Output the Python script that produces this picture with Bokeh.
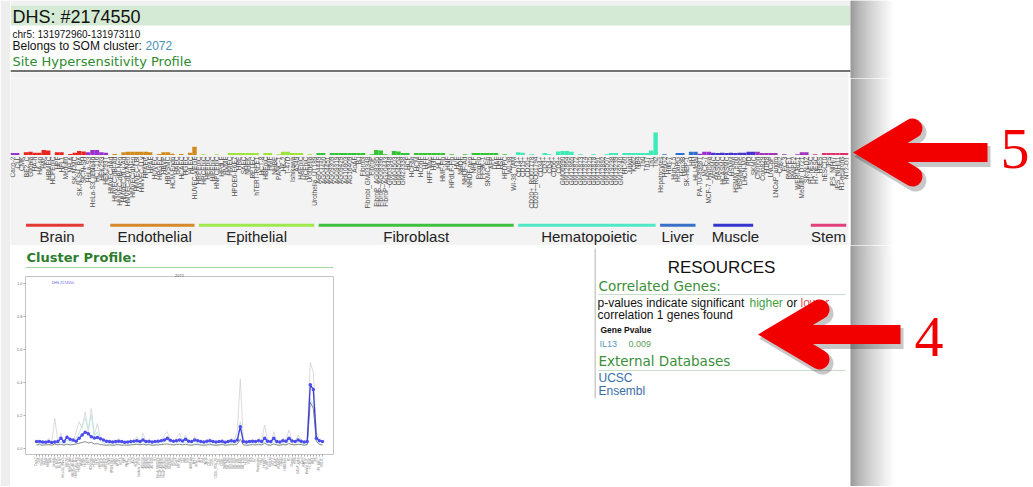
import math
import numpy as np
from bokeh.plotting import figure
from bokeh.layouts import column, row
from bokeh.models import Range1d, FactorRange, FixedTicker, PrintfTickFormatter
from bokeh.core.properties import value
from bokeh.embed import file_html
from bokeh.resources import INLINE

# ---------------- data: site hypersensitivity profile ----------------
other1_cells = ["Caco-2", "CLL", "CMK"]
other1_vals = [0.09, 0.09, 0.0]
brain_cells = ["BE2_C", "Gliobla", "HA-h", "HA-sp", "HAc", "HBMEC", "HCPEpiC", "HPF", "HFL1",
               "Medullo", "NH-A", "SK-N-MC", "SK-N-SH_RA", "SK-N-SH"]
brain_vals = [0.12, 0.14, 0.10, 0.10, 0.22, 0.20, 0.0, 0.12, 0.12, 0.0, 0.04, 0.10, 0.18, 0.16]
other2_cells = ["HeLa-S3", "HeLa-S3_IFNa4h", "HCT-116", "HEK293", "HEK293T"]
other2_vals = [0.12, 0.22, 0.22, 0.12, 0.10]
endo_cells = ["HMVEC-dAd", "HMVEC-dBl-Ad", "HMVEC-dBl-Neo", "HMVEC-dLy-Ad", "HMVEC-dLy-Neo",
              "HMVEC-dNeo", "HMVEC-LBl", "HMVEC-LLy", "HPAEC", "HPAF", "HUVEC", "HRGEC", "HBVP",
              "HBVSMC", "HCM-Endo", "HAEC", "HCAEC", "HGEC", "HLEC", "HUVEC-VEGF"]
endo_vals = [0.0, 0.04, 0.0, 0.12, 0.14, 0.14, 0.14, 0.14, 0.14, 0.12, 0.0, 0.04, 0.12, 0.12,
             0.05, 0.0, 0.04, 0.0, 0.10, 0.36]
epi_cells = ["HRPEpiC", "HRCEpiC", "HEEpiC", "HIPEpiC", "HNPCEpiC", "HPdLF", "HVMF", "HMEC",
             "HPDE6-E6E7", "HRE", "SAEC", "NHEK", "RPTEC", "hTERT-RPE1", "HCT-8", "HBEpiC", "HMF",
             "NHBE", "PANC-1", "HK-2", "T-47D", "Ishikawa", "A549", "HAEpiC", "HCEpiC",
             "Urothelia", "Urothelia_UT189"]
epi_vals = [0.0, 0.03, 0.0, 0.0, 0.03, 0.0, 0.0, 0.09, 0.09, 0.09, 0.09, 0.09, 0.09, 0.09, 0.0,
            0.09, 0.09, 0.0, 0.03, 0.14, 0.14, 0.09, 0.09, 0.09, 0.0, 0.03, 0.0]
fib_cells = ["AG04449", "AG04450", "AG04451", "AG09309", "AG09319", "AG09429", "AG10803",
             "AG16409", "AoAF", "BJ", "Fibrobl", "Fibrobl_GM03348", "FibroP", "FibroP_AG08395",
             "FibroP_AG08396", "FibroP_AG20443", "GM03348", "GM04503", "GM04504", "GM23338",
             "HCF", "HCFaa", "HCM", "HConF", "HFF", "HFF-Myc", "HGF", "HLF", "HMF-Fib", "HNF",
             "HPdLF-Fib", "HVF", "NHDF", "NHDF-Ad", "NHDF-neo", "NHLF", "ProgFib", "PFSK-1",
             "SKMC-Fib", "AFP", "HAF", "HSF", "HFDPC", "WI-38", "WI-38_TAM"]
fib_vals = [0.09, 0.09, 0.0,
            0.09, 0.09, 0.09, 0.09, 0.09, 0.09, 0.09, 0.09,
            0.0, 0.03, 0.22, 0.20, 0.03, 0.0, 0.18, 0.16, 0.09, 0.09, 0.0,
            0.09, 0.09, 0.09, 0.09, 0.09, 0.09, 0.09,
            0.0, 0.03, 0.0, 0.0, 0.03, 0.0,
            0.09, 0.09, 0.09, 0.09, 0.09, 0.09,
            0.0, 0.03, 0.0, 0.0]
hema_cells = ["CD14+", "CD19+", "CD20+", "CD20+_RO01778", "CD20+_RO01794", "CD34+", "CD3+",
              "CD4+", "CD56+", "CD8+", "GM06990", "GM12864", "GM12865", "GM12872", "GM12873",
              "GM12874", "GM12875", "GM12878", "GM12891", "GM12892", "GM18507", "GM19238",
              "GM19239", "GM19240", "HL-60", "Jurkat", "K562", "NB4", "Th0", "Th17", "Th1", "Th2"]
hema_vals = [0.12, 0.10, 0.0, 0.03, 0.0, 0.0, 0.09, 0.03, 0.0, 0.16, 0.18, 0.18, 0.14,
             0.0, 0.03, 0.0, 0.0, 0.03, 0.0, 0.0, 0.03, 0.09, 0.09, 0.0,
             0.09, 0.09, 0.09, 0.09, 0.09, 0.09, 0.20, 1.0]
liver_cells = ["Hepatocytes", "HepG2", "Huh-7", "Huh-7.5", "HepaRG", "Hep3B", "SK-HEP-1", "HH",
               "HLi-fetal"]
liver_vals = [0.0, 0.03, 0.0, 0.0, 0.09, 0.09, 0.0, 0.14, 0.14]
other3_cells = ["PA-TU-8988T", "MCF-7", "MCF-7_Hypoxia"]
other3_vals = [0.05, 0.14, 0.14]
muscle_cells = ["AoSMC", "HASMC", "HCASMC", "HPASMC", "HSMM", "HSMM_emb", "HSMMtube",
                "LHCN-M2", "RD", "SKMC"]
muscle_vals = [0.10, 0.09, 0.10, 0.09, 0.10, 0.09, 0.10, 0.10, 0.14, 0.14]
other4_cells = ["Chorion", "Colo829", "HTR8", "LNCaP", "LNCaP_andro", "Caki2", "PC-3", "RWPE1",
                "RWPE2", "WERI-Rb-1", "Medullo_D721", "SK-N-DZ"]
other4_vals = [0.14, 0.09, 0.09, 0.09, 0.09, 0.0, 0.03, 0.0, 0.0, 0.03, 0.12, 0.12]
stem_cells = ["H1-hESC", "H7-hESC", "H9ES", "hESCT0", "iPS", "iPS_NIHi7", "iPS_NIHi11",
              "H1-neurons", "NT2-D1"]
stem_vals = [0.0, 0.03, 0.0, 0.09, 0.09, 0.09, 0.09, 0.09, 0.09]

# (group label, cells, values, bar colour, group line colour)
groups = [
    ("", other1_cells, other1_vals, "#9b30d0", None),
    ("Brain", brain_cells, brain_vals, "#e8261f", "#e53935"),
    ("", other2_cells, other2_vals, "#9b30d0", None),
    ("Endothelial", endo_cells, endo_vals, "#d18a1c", "#d4892a"),
    ("Epithelial", epi_cells, epi_vals, "#9be336", "#a0e850"),
    ("Fibroblast", fib_cells, fib_vals, "#33c433", "#40c040"),
    ("Hematopoietic", hema_cells, hema_vals, "#3deab8", "#50e8c8"),
    ("Liver", liver_cells, liver_vals, "#2f6fd0", "#3a70c8"),
    ("", other3_cells, other3_vals, "#9b30d0", None),
    ("Muscle", muscle_cells, muscle_vals, "#4433cc", "#3535d0"),
    ("", other4_cells, other4_vals, "#a033b8", None),
    ("Stem", stem_cells, stem_vals, "#e0306a", "#e0407a"),
]
for g in groups:
    assert len(g[1]) == len(g[2]), g[0]

cells, vals, bar_colors = [], [], []
for _, c, v, col, _ in groups:
    cells += c
    vals += v
    bar_colors += [col] * len(c)
assert len(set(cells)) == len(cells)

# ---------------- data: cluster profile ----------------
profile_cells = cells[::2]
profile_dhs = [0.040, 0.040, 0.038, 0.036, 0.040, 0.034, 0.038, 0.040, 0.060, 0.040,
               0.067, 0.055, 0.050, 0.042, 0.060, 0.080, 0.097, 0.088, 0.070, 0.062,
               0.065, 0.058, 0.050, 0.042, 0.040, 0.038, 0.040, 0.042, 0.040, 0.036,
               0.038, 0.040, 0.042, 0.045, 0.040, 0.050, 0.040, 0.042, 0.038, 0.040,
               0.042, 0.045, 0.050, 0.060, 0.048, 0.042, 0.045, 0.050, 0.044, 0.055,
               0.042, 0.040, 0.050, 0.045, 0.040, 0.038, 0.042, 0.045, 0.040, 0.038,
               0.040, 0.042, 0.036, 0.040, 0.045, 0.040, 0.050, 0.130, 0.040, 0.038,
               0.040, 0.042, 0.040, 0.045, 0.040, 0.060, 0.042, 0.040, 0.060, 0.040,
               0.038, 0.045, 0.042, 0.060, 0.044, 0.040, 0.050, 0.042, 0.038, 0.040,
               0.385, 0.355, 0.060, 0.045, 0.040]
profile_member_a = [0.03, 0.05, 0.03, 0.04, 0.06, 0.03, 0.18, 0.04, 0.09, 0.03,
                    0.08, 0.05, 0.04, 0.10, 0.16, 0.12, 0.22, 0.10, 0.24, 0.08,
                    0.15, 0.06, 0.05, 0.03, 0.05, 0.03, 0.04, 0.06, 0.03, 0.04,
                    0.03, 0.05, 0.04, 0.07, 0.03, 0.09, 0.04, 0.05, 0.03, 0.04,
                    0.05, 0.04, 0.08, 0.10, 0.05, 0.04, 0.06, 0.09, 0.04, 0.08,
                    0.04, 0.03, 0.07, 0.05, 0.04, 0.03, 0.05, 0.06, 0.04, 0.03,
                    0.04, 0.05, 0.03, 0.04, 0.06, 0.05, 0.10, 0.42, 0.05, 0.03,
                    0.04, 0.05, 0.04, 0.06, 0.05, 0.14, 0.04, 0.03, 0.10, 0.04,
                    0.03, 0.06, 0.05, 0.11, 0.05, 0.04, 0.08, 0.05, 0.03, 0.06,
                    0.52, 0.46, 0.10, 0.05, 0.04]
profile_member_b = [0.02, 0.03, 0.02, 0.03, 0.02, 0.03, 0.05, 0.02, 0.04, 0.02,
                    0.05, 0.03, 0.04, 0.06, 0.09, 0.14, 0.18, 0.12, 0.20, 0.07,
                    0.10, 0.04, 0.03, 0.02, 0.03, 0.02, 0.03, 0.02, 0.02, 0.03,
                    0.02, 0.03, 0.02, 0.04, 0.02, 0.05, 0.02, 0.03, 0.02, 0.02,
                    0.03, 0.02, 0.04, 0.05, 0.03, 0.02, 0.03, 0.04, 0.02, 0.04,
                    0.02, 0.02, 0.03, 0.03, 0.02, 0.02, 0.03, 0.03, 0.02, 0.02,
                    0.02, 0.03, 0.02, 0.02, 0.03, 0.02, 0.04, 0.16, 0.03, 0.02,
                    0.02, 0.03, 0.02, 0.03, 0.02, 0.06, 0.02, 0.02, 0.05, 0.02,
                    0.02, 0.03, 0.02, 0.05, 0.03, 0.02, 0.04, 0.03, 0.02, 0.03,
                    0.30, 0.26, 0.05, 0.03, 0.02]
profile_median = [0.020, 0.022, 0.018, 0.020, 0.022, 0.018, 0.025, 0.020, 0.024, 0.018,
                  0.025, 0.020, 0.022, 0.026, 0.030, 0.035, 0.040, 0.032, 0.036, 0.026,
                  0.028, 0.022, 0.020, 0.018, 0.020, 0.018, 0.020, 0.022, 0.018, 0.020,
                  0.018, 0.020, 0.022, 0.024, 0.020, 0.025, 0.020, 0.022, 0.018, 0.020,
                  0.020, 0.022, 0.024, 0.026, 0.022, 0.020, 0.022, 0.024, 0.020, 0.024,
                  0.020, 0.018, 0.022, 0.022, 0.020, 0.018, 0.020, 0.022, 0.020, 0.018,
                  0.020, 0.022, 0.018, 0.020, 0.022, 0.020, 0.025, 0.055, 0.020, 0.018,
                  0.020, 0.022, 0.020, 0.022, 0.020, 0.030, 0.020, 0.018, 0.026, 0.020,
                  0.018, 0.022, 0.020, 0.028, 0.022, 0.020, 0.024, 0.022, 0.018, 0.022,
                  0.280, 0.240, 0.040, 0.022, 0.020]
profile_ticks = [0.0, 0.2, 0.4, 0.6, 0.8, 1.0]
for s in (profile_dhs, profile_member_a, profile_member_b, profile_median):
    assert len(s) == len(profile_cells)

SANS = "Liberation Sans"
ROUND = "DejaVu Sans"
SERIF = "Liberation Serif"
STRIP = "#eeeeee"
PANEL = "#f3f3f3"


def canvas(w, h, xr, yr):
    p = figure(width=w, height=h, x_range=Range1d(xr[0], xr[1]),
               y_range=Range1d(yr[1], yr[0]), x_axis_location=None, y_axis_location=None,
               toolbar_location=None, output_backend="svg", min_border=0,
               outline_line_color=None, background_fill_color="white",
               border_fill_color="white")
    p.grid.visible = False
    return p


def txt(p, x, y, s, size, color="#111111", font=SANS, style="normal", align="left"):
    # y is the wanted baseline (page pixels, growing downward); draw centred on the em box
    p.text(x=[x], y=[y - 0.35 * size], text=[s], text_font=value(font),
           text_font_size=f"{size}px", text_color=color, text_font_style=style,
           text_align=align, text_baseline="middle")


def shadow(p, y0, y1):
    xs = list(range(850, 894))
    cols = []
    for x in xs:
        t = (x - 850) / 43.0
        lv = min(255, int(150 + 105 * (t ** 0.7)))
        cols.append("#%02x%02x%02x" % (lv, lv, lv))
    p.quad(left=xs, right=[x + 1.6 for x in xs], top=y0, bottom=y1, fill_color=cols,
           line_color=None)


def arrow(p, vx, vy, wdx, wdy, shaft_end):
    for ox, oy, col, alpha, extra in [(3, 4, "#000000", 0.22, 2), (0, 0, "#f20000", 1.0, 0)]:
        p.line([vx + wdx + ox, vx + ox, vx + wdx + ox], [vy - wdy + oy, vy + oy, vy + wdy + oy],
               line_width=20 + extra, line_join="miter", line_cap="round",
               line_color=col, line_alpha=alpha)
        p.line([vx + 8 + ox, shaft_end + ox], [vy + oy, vy + oy], line_width=19 + extra,
               line_cap="butt", line_color=col, line_alpha=alpha)


# ---------------- left page strip ----------------
strip = canvas(10, 486, (0, 10), (0, 486))
strip.quad(left=[0], right=[10], top=[0], bottom=[486], fill_color=STRIP, line_color=None)

# ---------------- header ----------------
head = canvas(1022, 78, (10, 1032), (0, 78))
head.quad(left=[10], right=[850], top=[0], bottom=[5], fill_color="#f0f0f0", line_color=None)
head.quad(left=[10], right=[850], top=[5], bottom=[25], fill_color="#d5ead5", line_color=None)
head.quad(left=[10], right=[848], top=[72], bottom=[78], fill_color=PANEL, line_color=None)
txt(head, 12, 22.5, "DHS: #2174550", 18)
txt(head, 12, 37, "chr5: 131972960-131973110", 10)
txt(head, 12, 49.5, "Belongs to SOM cluster: ", 12)
txt(head, 145, 49.5, "2072", 12, color="#4a8fb8")
txt(head, 12, 65.5, "Site Hypersensitivity Profile", 13, color="#2e8b2e", font=ROUND)
head.segment(x0=[10], y0=[70.5], x1=[850], y1=[70.5], line_color="#444444", line_width=1.5)
shadow(head, 0, 78)

# ---------------- site hypersensitivity bar chart ----------------
bars = figure(width=840, height=167, x_range=FactorRange(factors=cells, range_padding=0),
              y_range=Range1d(-4.004, 3.385), x_axis_location=None, y_axis_location=None,
              min_border_left=0, min_border_right=2, min_border_top=0, min_border_bottom=0,
              background_fill_color=PANEL, border_fill_color="white",
              outline_line_color=None, toolbar_location=None, output_backend="svg")
bars.grid.visible = False
bars.vbar(x=cells, top=vals, bottom=0, width=1.0, fill_color=bar_colors, line_color=None)
bars.text(x=cells, y=[-0.07] * len(cells), text=cells, angle=math.pi / 2, text_align="right",
          text_baseline="middle", text_font=value(SANS), text_font_size="6.5px",
          text_color="#505050")
for name, c, v, col, lcol in groups:
    if not name:
        continue
    bars.segment(x0=[c[0]], y0=[-3.106], x1=[c[-1]], y1=[-3.106], line_color=lcol,
                 line_width=3)
    bars.text(x=[c[len(c) // 2]], y=[-3.62], text=[name], text_align="center",
              text_baseline="middle", text_font=value(SANS), text_font_size="15px",
              text_color="#222222")

right2 = canvas(182, 167, (850, 1032), (78, 245))
shadow(right2, 78, 245)
arrow(right2, 872, 152, 40, 24, 987)
txt(right2, 1000, 169, "5", 58, color="#f20000", font=SERIF)

# ---------------- cluster profile ----------------
clhead = canvas(584, 25, (10, 594), (245, 270))
txt(clhead, 12, 262, "Cluster Profile:", 13, color="#2e7d2e", font=ROUND, style="bold")
clhead.segment(x0=[10], y0=[267], x1=[594], y1=[267], line_color="#a8d4a8", line_width=1)

prof = figure(width=584, height=216,
              x_range=FactorRange(factors=profile_cells, range_padding=0.066),
              y_range=Range1d(-0.038, 1.04), min_border_left=15, min_border_right=261,
              min_border_top=6, min_border_bottom=32, outline_line_color="#c4c4c4",
              toolbar_location=None, output_backend="svg", title="2072")
prof.title.align = "center"
prof.title.text_font_size = "4px"
prof.title.text_font_style = "normal"
prof.title.text_color = "#555555"
prof.title.standoff = 0
prof.title.offset = 0
prof.grid.visible = False
prof.yaxis.ticker = FixedTicker(ticks=profile_ticks)
prof.yaxis.formatter = PrintfTickFormatter(format="%.1f")
prof.axis.axis_line_color = None
prof.axis.major_tick_line_color = "#aaaaaa"
prof.axis.major_tick_in = 0
prof.axis.major_tick_out = 2
prof.axis.minor_tick_line_color = None
prof.axis.major_label_standoff = 1
prof.axis.major_label_text_color = "#777777"
prof.yaxis.major_label_text_font_size = "4px"
prof.xaxis.major_label_text_font_size = "2.6px"
prof.xaxis.major_label_orientation = math.pi / 2
prof.line(profile_cells, profile_member_a, line_color="#d2d2d2", line_width=0.8)
prof.line(profile_cells, profile_member_b, line_color="#b4e6de", line_width=0.8)
prof.line(profile_cells, profile_median, line_color="#8a8a8a", line_width=1)
prof.line(profile_cells, profile_dhs, line_color="#3b3be0", line_width=1.3)
prof.scatter(profile_cells, profile_dhs, size=3.5, fill_color="#4d4dee", line_color=None)
prof.text(x=[profile_cells[5]], y=[1.0], text=["DHS 2174550"], text_font=value(SANS),
          text_font_size="3.5px", text_color="#5a5ae6", text_baseline="middle")

# ---------------- resources panel ----------------
res = canvas(438, 241, (594, 1032), (245, 486))
shadow(res, 245, 486)
res.segment(x0=[594.5], y0=[248], x1=[594.5], y1=[398], line_color="#9a9a9a", line_width=1)
txt(res, 721, 273, "RESOURCES", 17, align="center")
txt(res, 598, 290, "Correlated Genes:", 13.5, color="#3a8f3a", font=ROUND)
res.segment(x0=[598], y0=[294], x1=[845], y1=[294], line_color="#c8dcc8", line_width=1)
txt(res, 597, 306.5, "p-values indicate significant", 12)
txt(res, 749, 306.5, "higher", 12, color="#3ea03e")
txt(res, 786, 306.5, "or", 12)
txt(res, 800, 306.5, "lower", 12, color="#e05050")
txt(res, 597, 319, "correlation 1 genes found", 12)
txt(res, 600, 332.5, "Gene Pvalue", 8.5, style="bold")
txt(res, 599, 346.5, "IL13", 9, color="#5a9bc0")
txt(res, 628, 346.5, "0.009", 9, color="#5aa05a")
txt(res, 598, 365, "External Databases", 13.5, color="#3a8f3a", font=ROUND)
res.segment(x0=[598], y0=[370], x1=[845], y1=[370], line_color="#c8dcc8", line_width=1)
txt(res, 598, 382, "UCSC", 12, color="#3a6ea8")
txt(res, 598, 395, "Ensembl", 12, color="#3a6ea8")
arrow(res, 777, 334, 42, 25, 900)
txt(res, 914, 357, "4", 58, color="#f20000", font=SERIF)

layout = row(strip, column(head, row(bars, right2), row(column(clhead, prof), res)))

open("out.html", "w").write(file_html(layout, INLINE))
